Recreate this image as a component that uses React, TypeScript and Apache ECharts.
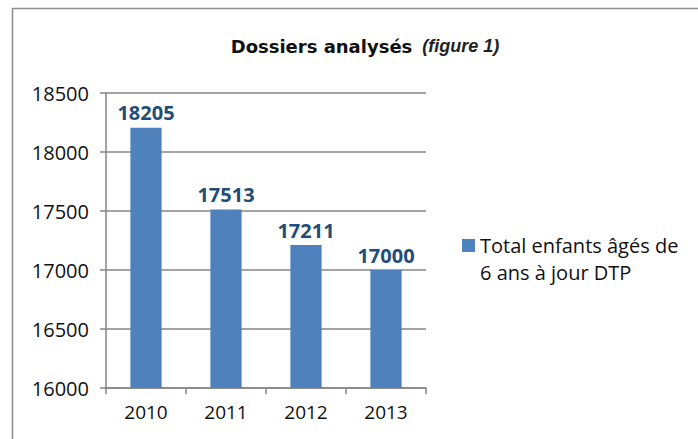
import React, { useEffect, useRef } from "react";
import * as echarts from "echarts";

const categories = ["2010", "2011", "2012", "2013"];
const values = [18205, 17513, 17211, 17000];
const seriesName = "Total enfants âgés de\n6 ans à jour DTP";
const yMin = 16000;
const yMax = 18500;
const yStep = 500;

export default function App() {
  const ref = useRef<HTMLDivElement>(null);
  useEffect(() => {
    document.body.style.margin = "0";
    const chart = echarts.init(ref.current!, null, { renderer: "svg" });
    const font = "'Open Sans', sans-serif";
    chart.setOption({
      animation: false,
      backgroundColor: "#ffffff",
      graphic: [
        {
          type: "rect",
          shape: { x: 12.5, y: 8.5, width: 760, height: 520 },
          style: { fill: "none", stroke: "#8c8c8c", lineWidth: 1.5 },
          z: 0,
        },
      ],
      title: {
        text: "{a|Dossiers analysés}  {b|(figure 1)}",
        left: 365,
        textAlign: "center",
        top: 37,
        padding: 0,
        textStyle: {
          rich: {
            a: { fontFamily: "'DejaVu Sans', sans-serif", fontWeight: "bold", fontSize: 18, color: "#111" },
            b: { fontFamily: "'Liberation Sans', Arial, sans-serif", fontWeight: "bold", fontStyle: "italic", fontSize: 18, color: "#222" },
          },
        },
      },
      legend: {
        orient: "vertical",
        left: 462,
        top: 205,
        padding: 0,
        itemWidth: 13,
        itemHeight: 13,
        itemGap: 5,
        icon: "rect",
        formatter: (name: string) => " \n" + name,
        textStyle: { fontFamily: font, fontSize: 20, color: "#111", lineHeight: 27 },
        data: [seriesName],
      },
      grid: { left: 106, right: 272, top: 93, bottom: 51 },
      xAxis: {
        type: "category",
        data: categories,
        axisLine: { lineStyle: { color: "#868686", width: 1.5 } },
        axisTick: { show: true, interval: 0, length: 6, lineStyle: { color: "#868686", width: 1.5 } },
        axisLabel: { color: "#111", fontFamily: font, fontSize: 19, margin: 14 },
      },
      yAxis: {
        type: "value",
        min: yMin,
        max: yMax,
        interval: yStep,
        axisLine: { show: true, lineStyle: { color: "#868686", width: 1.5 } },
        axisTick: { show: true, length: 6, lineStyle: { color: "#868686", width: 1.5 } },
        splitLine: { lineStyle: { color: "#868686", width: 1.5 } },
        axisLabel: { color: "#111", fontFamily: font, fontSize: 20, margin: 17, formatter: (v: number) => String(v) },
      },
      series: [
        {
          name: seriesName,
          type: "bar",
          data: values,
          barWidth: "39%",
          itemStyle: { color: "#4F81BD" },
          label: {
            show: true,
            position: "top",
            distance: 5,
            color: "#1F4E79",
            fontFamily: font,
            fontWeight: "bold",
            fontSize: 20,
          },
        },
      ],
    });
    return () => chart.dispose();
  }, []);
  return <div ref={ref} style={{ position: "fixed", left: 0, top: 0, width: 698, height: 439 }} />;
}
